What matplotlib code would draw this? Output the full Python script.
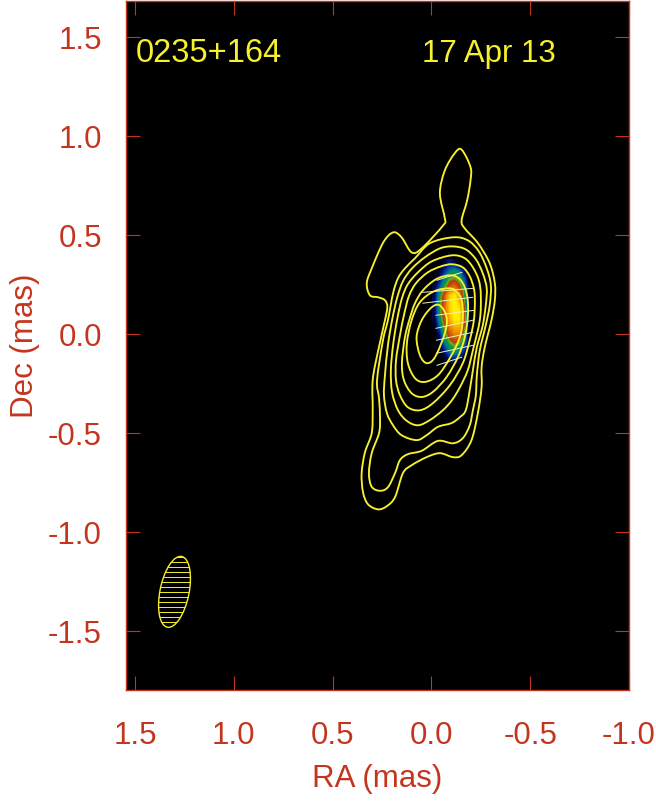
import numpy as np
import matplotlib
matplotlib.use("Agg")
import matplotlib.pyplot as plt
from matplotlib.colors import LinearSegmentedColormap
from matplotlib.patches import Ellipse, PathPatch
from matplotlib.path import Path

plt.rcParams["font.family"] = ["Liberation Sans", "DejaVu Sans"]

# -------------------------
# Data (mas)
# -------------------------
contour_1 = [(-0.153, 0.933), (-0.198, 0.845), (-0.198, 0.778), (-0.181, 0.677), (-0.153, 0.576),
             (-0.169, 0.535), (-0.236, 0.460), (-0.295, 0.359), (-0.321, 0.258), (-0.321, 0.172),
             (-0.304, 0.071), (-0.270, -0.066), (-0.254, -0.167), (-0.254, -0.268), (-0.235, -0.399),
             (-0.203, -0.535), (-0.153, -0.611), (-0.109, -0.621), (-0.043, -0.601), (0.024, -0.621),
             (0.100, -0.662), (0.144, -0.702), (0.184, -0.823), (0.226, -0.869), (0.270, -0.885),
             (0.321, -0.859), (0.346, -0.798), (0.353, -0.702), (0.336, -0.596), (0.302, -0.500),
             (0.297, -0.384), (0.297, -0.232), (0.269, -0.081), (0.235, 0.071), (0.223, 0.138),
             (0.235, 0.172), (0.269, 0.187), (0.311, 0.197), (0.327, 0.258), (0.302, 0.333),
             (0.243, 0.465), (0.193, 0.515), (0.151, 0.490), (0.100, 0.414), (0.049, 0.434),
             (-0.060, 0.551), (-0.068, 0.586), (-0.043, 0.712), (-0.068, 0.828), (-0.119, 0.916)]
contour_2 = [(-0.109, 0.490), (-0.184, 0.475), (-0.240, 0.419), (-0.280, 0.333), (-0.301, 0.247),
             (-0.295, 0.146), (-0.275, 0.045), (-0.245, -0.081), (-0.230, -0.207), (-0.225, -0.308),
             (-0.210, -0.384), (-0.194, -0.460), (-0.159, -0.525), (-0.109, -0.551), (-0.033, -0.539),
             (0.049, -0.589), (0.119, -0.606), (0.159, -0.636), (0.184, -0.702), (0.220, -0.773),
             (0.260, -0.791), (0.302, -0.771), (0.316, -0.702), (0.302, -0.601), (0.265, -0.500),
             (0.260, -0.424), (0.265, -0.323), (0.275, -0.232), (0.245, -0.030), (0.220, 0.071),
             (0.194, 0.207), (0.169, 0.283), (0.134, 0.333), (0.083, 0.384), (0.008, 0.460)]
contour_3 = [(-0.109, 0.444), (-0.174, 0.429), (-0.225, 0.379), (-0.260, 0.308), (-0.280, 0.232),
             (-0.275, 0.146), (-0.260, 0.045), (-0.230, -0.066), (-0.210, -0.182), (-0.194, -0.283),
             (-0.174, -0.384), (-0.144, -0.419), (-0.102, -0.449), (-0.033, -0.468), (0.024, -0.510),
             (0.075, -0.535), (0.151, -0.510), (0.194, -0.460), (0.225, -0.399), (0.240, -0.308),
             (0.235, -0.207), (0.220, -0.056), (0.199, 0.071), (0.174, 0.182), (0.144, 0.268),
             (0.098, 0.333), (0.033, 0.389), (-0.043, 0.434)]
contour_4 = [(-0.104, 0.399), (-0.169, 0.384), (-0.210, 0.338), (-0.240, 0.273), (-0.250, 0.197),
             (-0.245, 0.071), (-0.210, -0.081), (-0.184, -0.182), (-0.144, -0.268), (-0.104, -0.333),
             (-0.058, -0.384), (0.008, -0.434), (0.068, -0.460), (0.124, -0.438), (0.169, -0.384),
             (0.199, -0.293), (0.205, -0.182), (0.194, -0.056), (0.174, 0.071), (0.149, 0.182),
             (0.119, 0.253), (0.068, 0.313), (-0.003, 0.369)]
contour_5 = [(-0.104, 0.354), (-0.159, 0.338), (-0.194, 0.293), (-0.215, 0.232), (-0.220, 0.172),
             (-0.215, 0.071), (-0.194, -0.030), (-0.159, -0.146), (-0.093, -0.258), (-0.008, -0.348),
             (0.058, -0.384), (0.119, -0.369), (0.159, -0.308), (0.179, -0.232), (0.179, -0.131),
             (0.159, -0.005), (0.139, 0.096), (0.114, 0.192), (0.078, 0.258), (0.018, 0.313),
             (-0.048, 0.343)]
contour_6 = [(-0.093, 0.298), (-0.139, 0.283), (-0.169, 0.237), (-0.184, 0.172), (-0.184, 0.086),
             (-0.169, -0.015), (-0.134, -0.116), (-0.077, -0.216), (-0.008, -0.291), (0.049, -0.317),
             (0.100, -0.298), (0.139, -0.232), (0.149, -0.146), (0.134, -0.015), (0.109, 0.081),
             (0.083, 0.157), (0.043, 0.222), (-0.023, 0.278)]
contour_7 = [(-0.093, 0.232), (-0.129, 0.212), (-0.153, 0.172), (-0.159, 0.086), (-0.144, -0.015),
             (-0.093, -0.121), (-0.033, -0.207), (0.033, -0.241), (0.083, -0.222), (0.119, -0.146),
             (0.124, -0.045), (0.100, 0.071), (0.058, 0.162), (-0.013, 0.217)]
contour_8 = [(-0.043, 0.146), (-0.077, 0.087), (-0.068, 0.005), (-0.018, -0.116), (0.024, -0.146),
             (0.058, -0.106), (0.075, -0.015), (0.049, 0.071), (-0.001, 0.136)]
contours = [contour_1, contour_2, contour_3, contour_4, contour_5, contour_6, contour_7, contour_8]

# polarized intensity, read on a coarse grid (0 = black, 1 = yellow peak)
ra_cells = [-0.018, -0.043, -0.068, -0.093, -0.119, -0.144, -0.169, -0.195]
dec_cells = [0.354, 0.313, 0.273, 0.232, 0.192, 0.152, 0.111, 0.071, 0.030, -0.010, -0.051, -0.091, -0.131]
pol_flux = [
    [0.00, 0.00, 0.08, 0.15, 0.10, 0.00, 0.00, 0.00],
    [0.00, 0.06, 0.18, 0.30, 0.38, 0.30, 0.10, 0.00],
    [0.03, 0.14, 0.32, 0.47, 0.50, 0.44, 0.25, 0.00],
    [0.08, 0.25, 0.45, 0.60, 0.68, 0.55, 0.38, 0.00],
    [0.10, 0.40, 0.60, 0.85, 0.98, 0.72, 0.43, 0.02],
    [0.12, 0.42, 0.62, 0.88, 1.00, 0.85, 0.50, 0.03],
    [0.10, 0.40, 0.62, 0.85, 1.00, 0.95, 0.58, 0.05],
    [0.06, 0.36, 0.58, 0.80, 0.95, 0.95, 0.58, 0.05],
    [0.02, 0.25, 0.48, 0.68, 0.80, 0.80, 0.50, 0.02],
    [0.00, 0.12, 0.40, 0.56, 0.68, 0.66, 0.42, 0.00],
    [0.00, 0.05, 0.28, 0.44, 0.50, 0.46, 0.30, 0.00],
    [0.00, 0.00, 0.14, 0.30, 0.38, 0.32, 0.12, 0.00],
    [0.00, 0.00, 0.03, 0.10, 0.12, 0.05, 0.00, 0.00],
]

# polarization sticks: start and end of each
stick_ra0 = [-0.028, 0.043, 0.043, -0.023, -0.023, -0.026, -0.026, -0.028]
stick_dec0 = [0.273, 0.212, 0.157, 0.096, 0.030, -0.030, -0.096, -0.157]
stick_ra1 = [-0.154, -0.210, -0.210, -0.215, -0.210, -0.210, -0.210, -0.153]
stick_dec1 = [0.313, 0.232, 0.187, 0.121, 0.071, 0.010, -0.056, -0.116]

# restoring beam
beam_ra = 1.300
beam_dec = -1.302
beam_minor = 0.147
beam_major = 0.365
beam_pa = 11.5

x_ticks = [1.5, 1.0, 0.5, 0.0, -0.5, -1.0]
x_labels = ["1.5", "1.0", "0.5", "0.0", "-0.5", "-1.0"]
y_ticks = [-1.5, -1.0, -0.5, 0.0, 0.5, 1.0, 1.5]
y_labels = ["-1.5", "-1.0", "-0.5", "0.0", "0.5", "1.0", "1.5"]

RED = "#C4351F"
YELLOW = "#F6F02E"


def closed_spline(points):
    # Catmull-Rom through the traced points, as bezier segments
    pts = np.array(points)
    n = len(pts)
    verts = [pts[0]]
    codes = [Path.MOVETO]
    for i in range(n):
        p0, p1, p2, p3 = pts[i - 1], pts[i], pts[(i + 1) % n], pts[(i + 2) % n]
        verts += [p1 + (p2 - p0) / 6, p2 - (p3 - p1) / 6, p2]
        codes += [Path.CURVE4, Path.CURVE4, Path.CURVE4]
    return Path(verts, codes)


# -------------------------
# Plot
# -------------------------
fig = plt.figure(figsize=(6.56, 8.01), dpi=100)
ax = fig.add_axes([125.5 / 656, 1 - 690 / 801, 503.5 / 656, 689.5 / 801])
ax.set_facecolor("black")

cmap = LinearSegmentedColormap.from_list("pol", [
    (0.00, "#000000"), (0.10, "#00084A"), (0.20, "#0030A8"), (0.30, "#007A8C"),
    (0.42, "#0E9A3C"), (0.47, "#6FB020"), (0.53, "#B83A0C"), (0.72, "#F08A00"),
    (0.95, "#FFEE00"), (1.00, "#FFF200")])
half_ra = (ra_cells[1] - ra_cells[0]) / 2
half_dec = (dec_cells[1] - dec_cells[0]) / 2
ax.imshow(pol_flux, cmap=cmap, vmin=0, vmax=1, aspect="auto", interpolation="bilinear",
          interpolation_stage="data",
          extent=(ra_cells[0] - half_ra, ra_cells[-1] + half_ra,
                  dec_cells[-1] + half_dec, dec_cells[0] - half_dec), zorder=1)

for c in contours:
    ax.add_patch(PathPatch(closed_spline(c), fill=False, edgecolor=YELLOW, lw=1.35, zorder=3))

for i in range(len(stick_ra0)):
    ax.plot([stick_ra0[i], stick_ra1[i]], [stick_dec0[i], stick_dec1[i]],
            color="#F4F2B8", lw=0.7, zorder=4)

beam = Ellipse((beam_ra, beam_dec), beam_minor, beam_major, angle=beam_pa,
               fill=False, edgecolor=YELLOW, lw=1.0, zorder=3)
ax.add_patch(beam)
hatch = ax.hlines(np.arange(-1.48, -1.12, 0.0253), 1.1, 1.5, color=YELLOW, lw=0.7, zorder=2)
hatch.set_clip_path(beam)

ax.set_xlim(1.548, -1.0)
ax.set_ylim(-1.798, 1.687)
ax.set_xticks(x_ticks)
ax.set_xticklabels(x_labels)
ax.set_yticks(y_ticks)
ax.set_yticklabels(y_labels)
ax.tick_params(direction="in", length=10, width=0.8, color=RED, labelcolor=RED,
               labelsize=22.5, top=True, right=True)
ax.tick_params(axis="x", pad=22)
ax.tick_params(axis="y", pad=17)
for spine in ax.spines.values():
    spine.set_color(RED)
    spine.set_linewidth(1.0)

ax.set_xlabel("RA (mas)", color=RED, fontsize=22.5, labelpad=10)
ax.set_ylabel("Dec (mas)", color=RED, fontsize=22.5, labelpad=6)

ax.text(1.495, 1.375, "0235+164", color=YELLOW, fontsize=23.5, ha="left", va="baseline", zorder=5)
ax.text(0.05, 1.375, "17 Apr 13", color=YELLOW, fontsize=22.5, ha="left", va="baseline", zorder=5)

fig.savefig("out.png", dpi=100)
